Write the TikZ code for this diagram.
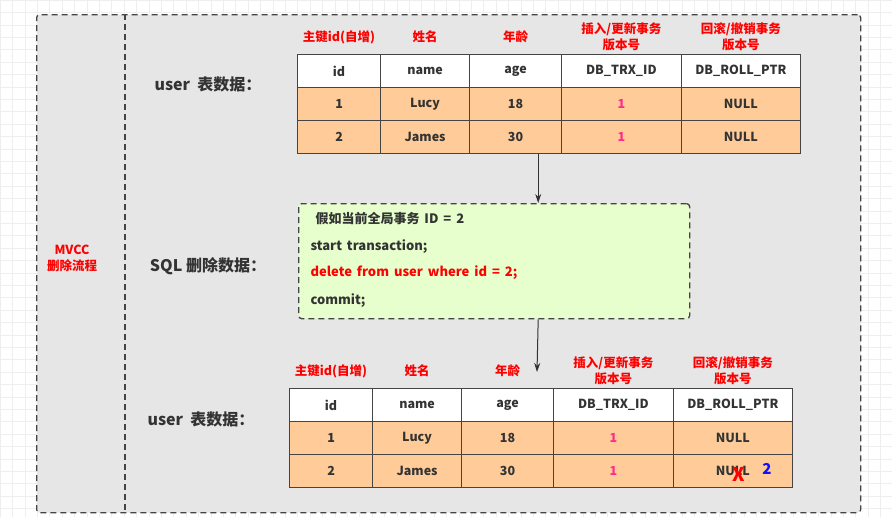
\documentclass[tikz,border=0pt]{standalone}
\usepackage{fontspec}
\setmainfont{Noto Sans CJK SC}
\usepackage{xcolor}
\usepackage{tikz}
\usetikzlibrary{arrows.meta,positioning}
\definecolor{INK}{HTML}{333333}
\definecolor{EDGE}{HTML}{444444}
\definecolor{PANEL}{HTML}{E6E6E6}
\definecolor{ROW}{HTML}{FFCC99}
\definecolor{SQLBG}{HTML}{E6FFCC}
\definecolor{RED}{HTML}{FF0000}
\definecolor{TRX}{HTML}{FF2D8A}
\definecolor{BLUE}{HTML}{1010FF}
\definecolor{GRID}{HTML}{EEEEEE}

\begin{document}
\begin{tikzpicture}[
    x=1pt, y=-1pt,
    font=\bfseries\fontsize{12.5}{15}\selectfont, text=INK,
    dashbox/.style={draw=EDGE, line width=1.3pt, dash pattern=on 6pt off 4pt, rounded corners=3pt},
    dashline/.style={draw=EDGE, line width=1.3pt, dash pattern=on 6pt off 4pt},
    cell/.style={draw=EDGE, line width=1.2pt, minimum height=33pt, inner sep=0pt, anchor=north west},
    hcell/.style={cell, fill=white},
    rcell/.style={cell, fill=ROW},
    collbl/.style={text=RED, font=\bfseries\fontsize{12.5}{15.5}\selectfont, align=center},
    rowlbl/.style={font=\bfseries\fontsize{16}{18}\selectfont},
    codeline/.style={anchor=west, font=\bfseries\fontsize{13}{15}\selectfont, execute at begin node={\spaceskip=0.38em\relax}},
    arr/.style={draw=INK, line width=1pt, -{Stealth[length=9pt,width=6pt]}},
  ]
  \useasboundingbox (0,0) rectangle (892,517);

  % background grid
  \fill[white] (0,0) rectangle (892,517);
  \draw[GRID, step=12.4pt] (0,0) grid (892,517);

  % panel and divider
  \node[dashbox, fill=PANEL, minimum width=824pt, minimum height=498pt, anchor=north west] (panel) at (36,14) {};
  \draw[dashline] (125,14) -- (125,512);
  \node[text=RED, align=center, font=\bfseries\fontsize{12.5}{16}\selectfont] (mvcc) at (72,258) {MVCC\\删除流程};

  % the two tables
  \foreach \t/\tx/\ty in {a/297/54, b/289/388} {
    \foreach \c/\dx/\w/\h/\l/\ra/\rb in {
        1/0/83/id/主键id(自增)/1/2,
        2/83/89/name/姓名/Lucy/James,
        3/172/92/age/年龄/18/30,
        4/264/119.5/DB\_TRX\_ID/{插入/更新事务\\版本号}/\textcolor{TRX}{1}/\textcolor{TRX}{1},
        5/383.5/119.5/DB\_ROLL\_PTR/{回滚/撤销事务\\版本号}/NULL/NULL} {
      \node[hcell, minimum width=\w pt] (\t-h-\c) at (\tx+\dx, \ty) {\h};
      \node[rcell, minimum width=\w pt] (\t-r1-\c) at (\tx+\dx, \ty+33) {\ra};
      \node[rcell, minimum width=\w pt] (\t-r2-\c) at (\tx+\dx, \ty+66) {\rb};
      \node[collbl, yshift=17pt] (\t-l-\c) at (\t-h-\c.north) {\l};
    }
  }
  \node[rowlbl] (a-lbl) at (208,84) {user~~表数据：};
  \node[rowlbl] (b-lbl) at (201,419) {user~~表数据：};

  % sql step
  \node[dashbox, fill=SQLBG, minimum width=391pt, minimum height=115pt, anchor=north west] (sql) at (298,203) {};
  \node[rowlbl] (sql-lbl) at (208,266) {SQL 删除数据：};
  \node[codeline] (ln1) at (312,219) {假如当前全局事务 ID = 2};
  \node[codeline] (ln2) at (307,247) {start transaction;};
  \node[codeline, text=RED] (ln3) at (307,273) {delete from user where id = 2;};
  \node[codeline] (ln4) at (307,301) {commit;};

  % arrows
  \path (a-r2-3.south east) ++(-24,0) coordinate (p1);
  \coordinate (p2) at (537,372);
  \draw[arr] (p1) -- (p1 |- sql.north);
  \draw[arr] (p1 |- sql.south) -- (p2);

  % changed roll pointer
  \node[text=RED, font=\bfseries\fontsize{19}{19}\selectfont] (delx) at (739,474) {X};
  \node[text=BLUE, font=\bfseries\fontsize{15}{18}\selectfont] (newid) at (767,469) {2};

\end{tikzpicture}
\end{document}
